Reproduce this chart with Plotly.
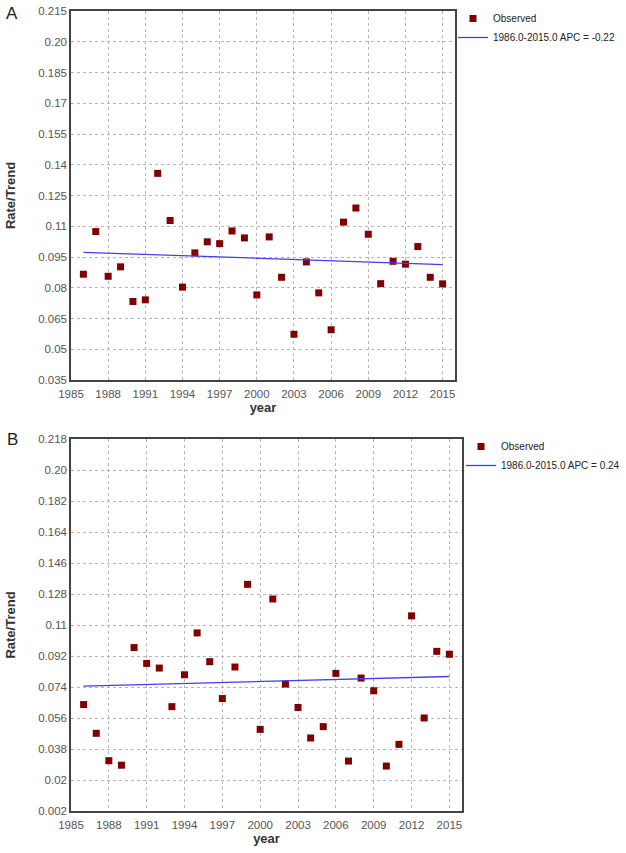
import plotly.graph_objects as go

YEARS = list(range(1986, 2016))

RATE_A = [0.0866, 0.1074, 0.0856, 0.0902, 0.0733, 0.0741, 0.1358, 0.1128, 0.0803, 0.0970,
          0.1024, 0.1015, 0.1077, 0.1043, 0.0765, 0.1048, 0.0851, 0.0573, 0.0926, 0.0775,
          0.0595, 0.1120, 0.1189, 0.1061, 0.0820, 0.0929, 0.0915, 0.1001, 0.0851, 0.0819]
TREND_A_YEARS = [1986, 2015]
TREND_A = [0.0973, 0.0913]

RATE_B = [0.0638, 0.0471, 0.0312, 0.0286, 0.0969, 0.0877, 0.0850, 0.0626, 0.0811, 0.1054,
          0.0887, 0.0673, 0.0856, 0.1336, 0.0494, 0.1251, 0.0757, 0.0621, 0.0444, 0.0510,
          0.0819, 0.0310, 0.0792, 0.0718, 0.0281, 0.0407, 0.1153, 0.0560, 0.0947, 0.0930]
TREND_B_YEARS = [1986, 2015]
TREND_B = [0.0745, 0.0801]

X_TICKS = list(range(1985, 2016, 3))

Y_TICKS_A = [0.035, 0.05, 0.065, 0.08, 0.095, 0.11, 0.125, 0.14, 0.155, 0.17, 0.185, 0.20, 0.215]
Y_TEXT_A = ["0.035", "0.05", "0.065", "0.08", "0.095", "0.11", "0.125", "0.14", "0.155",
            "0.17", "0.185", "0.20", "0.215"]
Y_TICKS_B = [0.002, 0.02, 0.038, 0.056, 0.074, 0.092, 0.11, 0.128, 0.146, 0.164, 0.182, 0.20, 0.218]
Y_TEXT_B = ["0.002", "0.02", "0.038", "0.056", "0.074", "0.092", "0.11", "0.128", "0.146",
            "0.164", "0.182", "0.20", "0.218"]

W, H = 626, 853
FONT = "Liberation Sans"
RED = "#800000"
BLUE = "#4040ee"


def px_x(p):
    return p / W


def px_y(p):
    return 1 - p / H


fig = go.Figure()

fig.add_trace(go.Scatter(
    x=YEARS, y=RATE_A, mode="markers", name="Observed",
    marker=dict(symbol="square", size=7, color=RED),
    xaxis="x", yaxis="y", legend="legend",
))
fig.add_trace(go.Scatter(
    x=TREND_A_YEARS, y=TREND_A, mode="lines", name="1986.0-2015.0 APC = -0.22",
    line=dict(color=BLUE, width=1.3),
    xaxis="x", yaxis="y", legend="legend",
))
fig.add_trace(go.Scatter(
    x=YEARS, y=RATE_B, mode="markers", name="Observed",
    marker=dict(symbol="square", size=7, color=RED),
    xaxis="x2", yaxis="y2", legend="legend2",
))
fig.add_trace(go.Scatter(
    x=TREND_B_YEARS, y=TREND_B, mode="lines", name="1986.0-2015.0 APC = 0.24",
    line=dict(color=BLUE, width=1.3),
    xaxis="x2", yaxis="y2", legend="legend2",
))

axis_common = dict(
    showline=True, mirror=True, linecolor="#444", linewidth=1.5,
    showgrid=True, gridcolor="#b5b5b5", griddash="dot", gridwidth=1,
    zeroline=False, ticks="", automargin=False,
    tickfont=dict(family=FONT, size=11.5, color="#555"),
)
title_font = dict(family=FONT, size=13, color="#333", weight="bold")
legend_common = dict(
    xanchor="left", yanchor="top",
    font=dict(family=FONT, size=10, color="#222"),
    tracegroupgap=0, itemwidth=30, bgcolor="rgba(0,0,0,0)",
)

fig.update_layout(
    width=W, height=H,
    margin=dict(l=0, r=0, t=0, b=0, autoexpand=False),
    plot_bgcolor="white", paper_bgcolor="white",
    font=dict(family=FONT),
    xaxis=dict(axis_common, domain=[px_x(71), px_x(455)], anchor="y",
               range=[1985, 2016], tickvals=X_TICKS, ticklabelstandoff=2,
               title=dict(text="year", font=title_font, standoff=3)),
    yaxis=dict(axis_common, domain=[px_y(380), px_y(11)], anchor="x",
               range=[0.035, 0.215], tickvals=Y_TICKS_A, ticktext=Y_TEXT_A,
               title=dict(text="Rate/Trend", font=title_font, standoff=20)),
    xaxis2=dict(axis_common, domain=[px_x(71), px_x(462)], anchor="y2",
                range=[1985, 2016], tickvals=X_TICKS, ticklabelstandoff=2,
                title=dict(text="year", font=title_font, standoff=3)),
    yaxis2=dict(axis_common, domain=[px_y(811), px_y(439)], anchor="x2",
                range=[0.002, 0.218], tickvals=Y_TICKS_B, ticktext=Y_TEXT_B,
                title=dict(text="Rate/Trend", font=title_font, standoff=20)),
    legend=dict(legend_common, x=px_x(453), y=px_y(4)),
    legend2=dict(legend_common, x=px_x(461), y=px_y(432)),
    annotations=[
        dict(text="A", x=px_x(12), y=px_y(13), xref="paper", yref="paper",
             xanchor="center", yanchor="middle", showarrow=False,
             font=dict(family=FONT, size=17, color="#222")),
        dict(text="B", x=px_x(12), y=px_y(440), xref="paper", yref="paper",
             xanchor="center", yanchor="middle", showarrow=False,
             font=dict(family=FONT, size=17, color="#222")),
    ],
)

fig.write_html("out.html", config={"displayModeBar": False},
               post_script="document.body.style.margin = '0';")
